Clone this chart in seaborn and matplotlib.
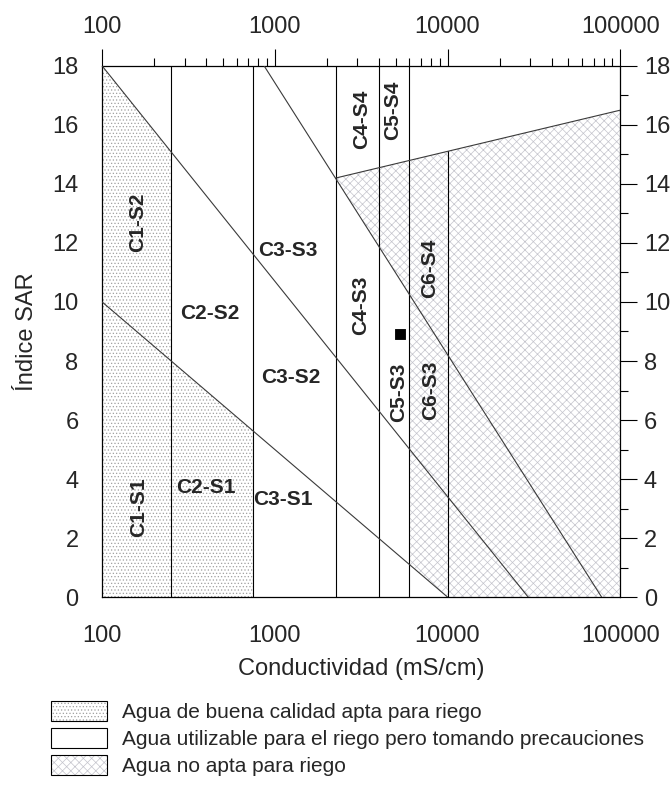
import numpy as np
import pandas as pd
import matplotlib
matplotlib.use("Agg")
import matplotlib.pyplot as plt
import seaborn as sns
from matplotlib.patches import Patch
from matplotlib.legend_handler import HandlerTuple
from matplotlib.ticker import FixedLocator, NullFormatter, LogLocator

# ---------------- data ----------------
cond_bounds = [250, 750, 2250, 4000, 6000, 10000]      # vertical class limits (C1..C6)
s1_x = [100, 10000];   s1_y = [10, 0]                  # S1/S2 limit
s2_x = [100, 29300];   s2_y = [18, 0]                  # S2/S3 limit
s3_x = [867, 78000];   s3_y = [18, 0]                  # S3/S4 limit
up_x = [2250, 100000]; up_y = [14.2, 16.5]             # upper limit of unsuitable zone

zone_labels = ["C1-S2", "C1-S1", "C2-S2", "C2-S1", "C3-S3", "C3-S2", "C3-S1",
               "C4-S4", "C5-S4", "C4-S3", "C5-S3", "C6-S4", "C6-S3"]
zone_x = [160, 162, 422, 400, 1190, 1240, 1120, 3160, 4840, 3120, 5180, 7920, 7930]
zone_y = [12.7, 3.05, 9.6, 3.7, 11.75, 7.45, 3.3, 16.2, 16.5, 9.9, 6.95, 11.15, 7.0]
zone_rot = [90, 90, 0, 0, 0, 0, 0, 90, 90, 90, 90, 90, 90]

sample_x = [5300]
sample_y = [8.9]

legend_labels = ["Agua de buena calidad apta para riego",
                 "Agua utilizable para el riego pero tomando precauciones",
                 "Agua no apta para riego"]

x_ticks = [100, 1000, 10000, 100000]
y_ticks = list(range(0, 19, 2))

# ---------------- style ----------------
sns.set_style("white")
plt.rcParams['font.family'] = ['Liberation Sans', 'DejaVu Sans']
plt.rcParams['hatch.linewidth'] = 0.5

DOT_COL = "#a0a0a0"
X_COL = "#c4c4cc"


def line_at(xs, ys, x):
    lx = np.log10(xs)
    return np.interp(np.log10(x), lx, ys)


fig = plt.figure(figsize=(6.72, 7.94), dpi=100)
ax = fig.add_axes([0.152, 0.248, 0.771, 0.669])
ax.set_xscale("log")
ax.set_xlim(100, 100000)
ax.set_ylim(0, 18)

# ---- dotted zone (good quality) ----
c1, c2 = cond_bounds[0], cond_bounds[1]
xa = np.geomspace(100, c1, 20)
xb = np.geomspace(c1, c2, 20)
poly_x = np.concatenate([[100], xa, [c1], xb, [c2, 100]])
poly_y = np.concatenate([[0], line_at(s2_x, s2_y, xa), [line_at(s1_x, s1_y, c1)],
                         line_at(s1_x, s1_y, xb), [0, 0]])
ax.fill(poly_x, poly_y, facecolor="white", edgecolor=DOT_COL, hatch=".....",
        linewidth=0, zorder=1)

# ---- cross hatched zone (not suitable) ----
c3, c5, c6 = cond_bounds[2], cond_bounds[4], cond_bounds[5]
xu = np.geomspace(c3, 100000, 30)
xs1 = np.geomspace(c6, c5, 20)
xs3 = np.geomspace(c5, c3, 20)
hx = np.concatenate([xu, [100000, c6], xs1, [c5], xs3])
hy = np.concatenate([line_at(up_x, up_y, xu), [0, 0], line_at(s1_x, s1_y, xs1),
                     [line_at(s3_x, s3_y, c5)], line_at(s3_x, s3_y, xs3)])
ax.fill(hx, hy, facecolor="white", edgecolor=X_COL, hatch="xxxx",
        linewidth=0, zorder=1)

# ---- class boundaries ----
for c in cond_bounds:
    top = 18 if c < 10000 else float(line_at(up_x, up_y, c))
    ax.plot([c, c], [0, top], color="black", lw=0.8, zorder=2)

lines_df = pd.concat([
    pd.DataFrame({"x": s1_x, "y": s1_y, "lim": "S1"}),
    pd.DataFrame({"x": s2_x, "y": s2_y, "lim": "S2"}),
    pd.DataFrame({"x": s3_x, "y": s3_y, "lim": "S3"}),
    pd.DataFrame({"x": up_x, "y": up_y, "lim": "UP"}),
])
sns.lineplot(data=lines_df, x="x", y="y", units="lim", estimator=None, sort=False,
             color="#3a3a3a", lw=0.8, ax=ax, zorder=3, legend=False)

sns.scatterplot(x=sample_x, y=sample_y, marker="s", s=60, color="black",
                edgecolor="black", ax=ax, zorder=5, legend=False)

for lab, x, y, r in zip(zone_labels, zone_x, zone_y, zone_rot):
    ax.text(x, y, lab, rotation=r, ha="center", va="center", fontsize=15,
            fontweight="bold", zorder=6)

# ---- axes / ticks ----
for s in ax.spines.values():
    s.set_linewidth(0.9)
    s.set_color("black")
    s.set_visible(True)

ax.set_xticks(x_ticks)
ax.set_xticklabels([str(v) for v in x_ticks])
ax.xaxis.set_minor_locator(LogLocator(base=10, subs=np.arange(2, 10)))
ax.xaxis.set_minor_formatter(NullFormatter())
ax.set_yticks(y_ticks)
ax.set_yticklabels([str(v) for v in y_ticks])
ax.yaxis.set_minor_locator(FixedLocator(np.arange(1, 18, 2)))

ax.tick_params(axis="both", which="major", direction="out", length=12, width=0.8,
               labelsize=17, top=True, right=True, labeltop=True, labelright=True,
               color="black")
ax.tick_params(axis="both", which="minor", direction="out", length=6, width=0.8,
               top=True, right=True, color="black")
ax.tick_params(axis="x", which="major", pad=8)
ax.tick_params(axis="y", which="major", pad=5)

ax.set_xlabel("Conductividad (mS/cm)", fontsize=17, labelpad=8)
ax.set_ylabel("Índice SAR", fontsize=17, labelpad=10)

# ---- legend ----
border = Patch(facecolor="none", edgecolor="black", lw=0.8)
handles = [(Patch(facecolor="white", edgecolor=DOT_COL, hatch=".....", lw=0), border),
           (Patch(facecolor="white", edgecolor="black", lw=0.8),),
           (Patch(facecolor="white", edgecolor=X_COL, hatch="xxxx", lw=0), border)]
leg = fig.legend(handles, legend_labels, loc="upper left", bbox_to_anchor=(0.06, 0.13),
                 frameon=False, fontsize=15, handlelength=2.7, handleheight=1.1,
                 handletextpad=0.7, labelspacing=0.27, borderpad=0,
                 handler_map={tuple: HandlerTuple(ndivide=1, pad=0)})

fig.savefig("out.png", dpi=100)
